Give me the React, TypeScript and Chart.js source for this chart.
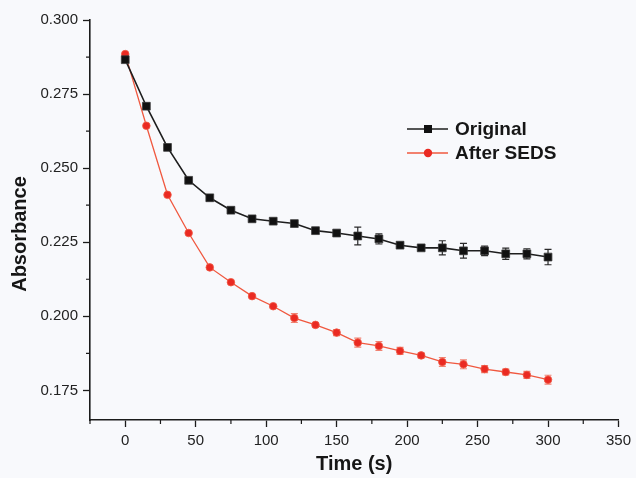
import React, { useEffect, useRef } from "react";
import { Chart, registerables } from "chart.js";

Chart.register(...registerables);

const times = [0, 15, 30, 45, 60, 75, 90, 105, 120, 135, 150, 165, 180, 195, 210, 225, 240, 255, 270, 285, 300];
const originalValues = [0.2866, 0.2709, 0.257, 0.2459, 0.24, 0.2358, 0.2329, 0.2321, 0.2313, 0.2289, 0.2281, 0.2271, 0.2261, 0.224, 0.2231, 0.2231, 0.2221, 0.2221, 0.2211, 0.2211, 0.22];
const originalErrors = [0, 0, 0, 0, 0, 0, 0, 0, 0.0008, 0, 0.001, 0.003, 0.0017, 0.0005, 0.0008, 0.0024, 0.0025, 0.0016, 0.0019, 0.0017, 0.0026];
const sedsValues = [0.2885, 0.2643, 0.241, 0.2281, 0.2165, 0.2115, 0.2068, 0.2034, 0.1994, 0.1971, 0.1945, 0.1911, 0.19, 0.1883, 0.1868, 0.1846, 0.1838, 0.1822, 0.1812, 0.1802, 0.1786];
const sedsErrors = [0, 0, 0, 0, 0, 0, 0.0005, 0.0005, 0.0015, 0.0008, 0.001, 0.0015, 0.0015, 0.0012, 0.0008, 0.0015, 0.0015, 0.0012, 0.001, 0.0012, 0.0015];

const seriesNames = ["Original", "After SEDS"];
const xMajorTicks = [0, 50, 100, 150, 200, 250, 300, 350];
const xMinorTicks = [-25, 25, 75, 125, 175, 225, 275, 325];
const yMajorTicks = [0.175, 0.2, 0.225, 0.25, 0.275, 0.3];
const yMinorTicks = [0.1875, 0.2125, 0.2375, 0.2625, 0.2875];
const xTitle = "Time (s)";
const yTitle = "Absorbance";

const AXIS_COLOR = "#1b1b1b";
const FONT = "'Liberation Sans', Arial, Helvetica, sans-serif";

const errorBarPlugin = {
  id: "errorBars",
  beforeDatasetsDraw(chart: any) {
    const ctx = chart.ctx;
    const xs = chart.scales.x;
    const ys = chart.scales.y;
    const sets = [
      { vals: originalValues, errs: originalErrors, color: "#2a2a2a" },
      { vals: sedsValues, errs: sedsErrors, color: "rgba(238,110,90,0.85)" },
    ];
    ctx.save();
    sets.forEach((s) => {
      ctx.strokeStyle = s.color;
      ctx.lineWidth = 1.2;
      s.vals.forEach((v, i) => {
        const e = s.errs[i];
        if (!e) return;
        const x = xs.getPixelForValue(times[i]);
        const y1 = ys.getPixelForValue(v + e);
        const y2 = ys.getPixelForValue(v - e);
        ctx.beginPath();
        ctx.moveTo(x, y1);
        ctx.lineTo(x, y2);
        ctx.moveTo(x - 3.5, y1);
        ctx.lineTo(x + 3.5, y1);
        ctx.moveTo(x - 3.5, y2);
        ctx.lineTo(x + 3.5, y2);
        ctx.stroke();
      });
    });
    ctx.restore();
  },
};

const minorTickPlugin = {
  id: "minorTicks",
  afterDraw(chart: any) {
    const ctx = chart.ctx;
    const xs = chart.scales.x;
    const ys = chart.scales.y;
    const area = chart.chartArea;
    ctx.save();
    ctx.strokeStyle = AXIS_COLOR;
    ctx.lineWidth = 1.2;
    ctx.beginPath();
    xMinorTicks.forEach((v) => {
      const x = xs.getPixelForValue(v);
      ctx.moveTo(x, area.bottom);
      ctx.lineTo(x, area.bottom + 4);
    });
    yMinorTicks.forEach((v) => {
      const y = ys.getPixelForValue(v);
      ctx.moveTo(area.left, y);
      ctx.lineTo(area.left - 4, y);
    });
    ctx.stroke();
    // y axis title, placed slightly below the axis centre as in the reference
    ctx.fillStyle = "#161616";
    ctx.font = `bold 20px ${FONT}`;
    ctx.textAlign = "center";
    ctx.textBaseline = "middle";
    ctx.translate(20, (area.top + area.bottom) / 2 + 14);
    ctx.rotate(-Math.PI / 2);
    ctx.fillText(yTitle, 0, 0);
    ctx.restore();
  },
};

const legendPlugin = {
  id: "customLegend",
  afterDraw(chart: any) {
    const ctx = chart.ctx;
    const area = chart.chartArea;
    const x0 = area.left + 317;
    const rows = [area.top + 109, area.top + 133];
    ctx.save();
    chart.data.datasets.forEach((ds: any, i: number) => {
      const y = rows[i];
      ctx.strokeStyle = ds.borderColor;
      ctx.lineWidth = ds.borderWidth;
      ctx.beginPath();
      ctx.moveTo(x0, y);
      ctx.lineTo(x0 + 41, y);
      ctx.stroke();
      ctx.fillStyle = ds.pointBackgroundColor;
      if (ds.pointStyle === "rect") {
        ctx.fillRect(x0 + 21 - 4, y - 4, 8, 8);
      } else {
        ctx.beginPath();
        ctx.arc(x0 + 21, y, 4.2, 0, Math.PI * 2);
        ctx.fill();
      }
      ctx.fillStyle = "#161616";
      ctx.font = `bold 19px ${FONT}`;
      ctx.textBaseline = "middle";
      ctx.textAlign = "left";
      ctx.fillText(ds.label, x0 + 48, y + 1);
    });
    ctx.restore();
  },
};

const bgPlugin = {
  id: "bg",
  beforeDraw(chart: any) {
    const ctx = chart.ctx;
    ctx.save();
    ctx.fillStyle = "#f8f9fc";
    ctx.fillRect(0, 0, chart.width, chart.height);
    ctx.restore();
  },
};

export default function App() {
  const ref = useRef<HTMLCanvasElement | null>(null);
  useEffect(() => {
    if (!ref.current) return;
    const chart = new Chart(ref.current, {
      type: "line",
      data: {
        datasets: [
          {
            label: seriesNames[0],
            data: times.map((t, i) => ({ x: t, y: originalValues[i] })),
            borderColor: "#1e1e1e",
            borderWidth: 1.6,
            pointStyle: "rect",
            pointRadius: 5.5,
            pointBackgroundColor: "#111111",
            pointBorderColor: "#3a3a3a",
            pointBorderWidth: 0.8,
            tension: 0,
          },
          {
            label: seriesNames[1],
            data: times.map((t, i) => ({ x: t, y: sedsValues[i] })),
            borderColor: "#f0583f",
            borderWidth: 1.3,
            pointStyle: "circle",
            pointRadius: 3.8,
            pointBackgroundColor: "#ea2a22",
            pointBorderColor: "#f05a45",
            pointBorderWidth: 0.8,
            tension: 0,
          },
        ],
      },
      options: {
        animation: false,
        responsive: false,
        maintainAspectRatio: false,
        layout: { padding: { top: 20, right: 13, left: 0, bottom: 0 } },
        plugins: { legend: { display: false }, tooltip: { enabled: false } },
        scales: {
          x: {
            type: "linear",
            min: -25,
            max: 350,
            afterBuildTicks: (s: any) => {
              s.ticks = xMajorTicks.map((v) => ({ value: v }));
            },
            afterFit: (s: any) => {
              s.height = 58;
            },
            grid: { drawOnChartArea: false, tickLength: 7, tickColor: AXIS_COLOR, tickWidth: 1.3 },
            border: { display: true, color: AXIS_COLOR, width: 1.6 },
            ticks: {
              color: "#222",
              font: { family: FONT, size: 15 },
              padding: 5,
              autoSkip: false,
              maxRotation: 0,
              callback: (v: any) => String(v),
            },
            title: {
              display: true,
              text: xTitle,
              color: "#161616",
              font: { family: FONT, size: 20, weight: "bold" },
              padding: { top: 0, bottom: 2 },
            },
          },
          y: {
            type: "linear",
            min: 0.165,
            max: 0.3,
            afterBuildTicks: (s: any) => {
              s.ticks = yMajorTicks.map((v) => ({ value: v }));
            },
            afterFit: (s: any) => {
              s.width = 90;
            },
            grid: { drawOnChartArea: false, tickLength: 7, tickColor: AXIS_COLOR, tickWidth: 1.3 },
            border: { display: true, color: AXIS_COLOR, width: 1.6 },
            ticks: {
              color: "#222",
              font: { family: FONT, size: 15 },
              padding: 5,
              autoSkip: false,
              callback: (v: any) => Number(v).toFixed(3),
            },
            title: { display: false, text: yTitle },
          },
        },
      } as any,
      plugins: [bgPlugin, errorBarPlugin, minorTickPlugin, legendPlugin],
    });
    return () => chart.destroy();
  }, []);
  return (
    <div style={{ position: "fixed", left: 0, top: 0, width: 636, height: 478, background: "#f8f9fc" }}>
      <canvas ref={ref} width={636} height={478} style={{ width: 636, height: 478 }} />
    </div>
  );
}
